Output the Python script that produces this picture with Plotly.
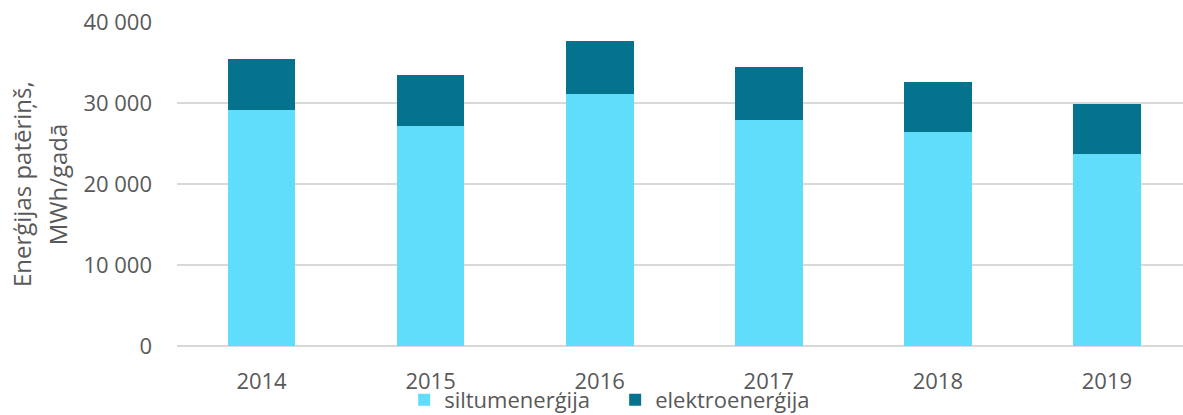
import plotly.graph_objects as go

years = ["2014", "2015", "2016", "2017", "2018", "2019"]
siltumenergija = [29100, 27100, 31100, 27900, 26400, 23700]
elektroenergija = [6300, 6400, 6600, 6500, 6200, 6200]
axis_title_lines = ["Enerģijas patēriņš,", "MWh/gadā"]

light = "#60DDFA"
dark = "#06738E"
text_color = "#595959"
grid_color = "#D9D9D9"
font_family = "Open Sans, Noto Sans, sans-serif"
fs = 22

fig = go.Figure()
fig.add_trace(go.Bar(x=years, y=siltumenergija, name="siltumenerģija",
                     marker=dict(color=light, line=dict(width=0)), width=0.4))
fig.add_trace(go.Bar(x=years, y=elektroenergija, name="elektroenerģija",
                     marker=dict(color=dark, line=dict(width=0)), width=0.4))

fig.update_layout(
    barmode="stack",
    width=1183, height=415,
    margin=dict(l=177, r=0, t=22, b=69, autoexpand=False),
    paper_bgcolor="white", plot_bgcolor="white",
    separators=". ",
    font=dict(family=font_family, size=fs, color=text_color),
    showlegend=True,
    legend=dict(orientation="h", xref="container", yref="container",
                x=0.520, y=0.036, xanchor="center", yanchor="middle",
                traceorder="normal", entrywidth=166, entrywidthmode="pixels",
                font=dict(size=22, color=text_color),
                itemwidth=30, tracegroupgap=0, bgcolor="rgba(0,0,0,0)"),
)

# two-line rotated axis title, drawn as separate lines for wider spacing
for text, xpos in zip(axis_title_lines, [-0.155, -0.119]):
    fig.add_annotation(text=text, textangle=-90, xref="paper", yref="paper",
                       x=xpos, y=0.5, xanchor="center", yanchor="middle",
                       showarrow=False, font=dict(size=24, color=text_color))

fig.update_xaxes(type="category", range=[-0.5, 5.45], showgrid=False,
                 showline=False, ticks="", tickfont=dict(size=fs, color=text_color),
                 ticklabelstandoff=20)
fig.update_yaxes(range=[0, 40000], dtick=10000, tickformat=",d",
                 showgrid=True, gridcolor=grid_color, gridwidth=2,
                 zeroline=True, zerolinecolor=grid_color, zerolinewidth=2,
                 showline=False, ticks="", ticklabelstandoff=24,
                 tickfont=dict(size=fs, color=text_color))

fig.write_html("out.html")
